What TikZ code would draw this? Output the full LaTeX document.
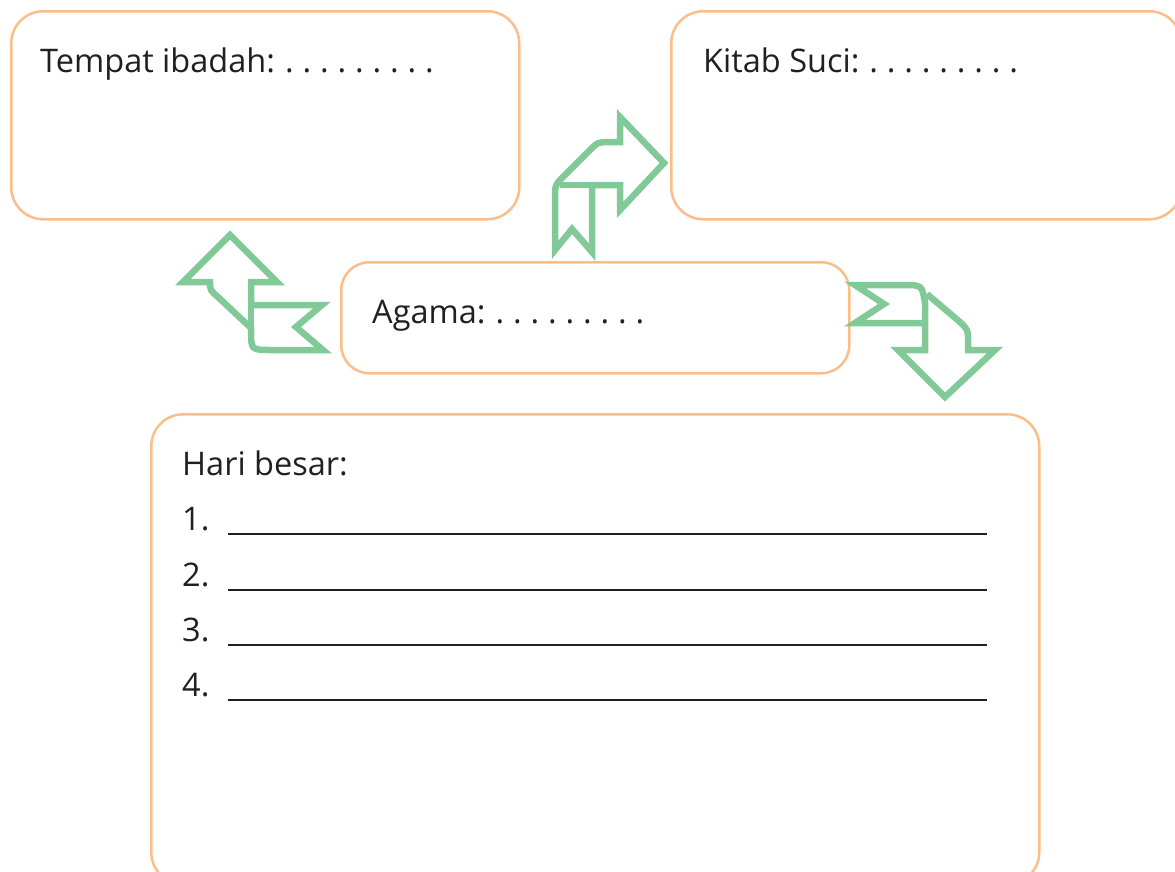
\documentclass[tikz,border=0pt]{standalone}
\usepackage{fontspec}
\setmainfont{Open Sans}
\definecolor{boxc}{RGB}{250,190,138}
\definecolor{arr}{RGB}{130,201,152}
\definecolor{txt}{RGB}{35,31,32}
\newcommand\onedot{\makebox[17.5pt][l]{.}}
\newcommand\ninedots{\hspace{10pt}\onedot\onedot\onedot\onedot\onedot\onedot\onedot\onedot\onedot}
\begin{document}
\begin{tikzpicture}[x=1pt,y=-1pt,
  box/.style={draw=boxc,line width=2.5pt,rounded corners=32pt,inner sep=0pt,anchor=north west},
  lab/.style={anchor=base west,inner sep=0pt,text=txt,font=\fontsize{32.5}{38}\selectfont},
  arrw/.style={draw=arr,line width=6.5pt,line join=miter,line cap=butt},
  rule/.style={draw=txt,line width=1.8pt}]
\useasboundingbox (0,0) rectangle (1175,871);
% boxes
\node[box,minimum width=508pt,minimum height=208pt] (tempat) at (10,10) {};
\node[box,minimum width=510pt,minimum height=208pt] (kitab) at (670,10) {};
\node[box,minimum width=508pt,minimum height=111pt,rounded corners=28pt] (agama) at (340,261) {};
\node[box,minimum width=888pt,minimum height=470pt] (hari) at (150,413) {};
% labels
\node[lab] (tl) at (40,72) {Tempat ibadah:\ninedots};
\node[lab] (kl) at (703,72) {Kitab Suci:\ninedots};
\node[lab] (al) at (372,323) {Agama:\ninedots};
\node[lab] (hl) at (182,475) {Hari besar:};
\foreach \n/\y in {1/530,2/586,3/641,4/696}{
  \node[lab] (n\n) at (182,\y) {\n.};
  \coordinate (a\n) at (228,\y+4);
  \coordinate (b\n) at (987,\y+4);
  \draw[rule] (a\n) -- (b\n);
}
% arrow to Kitab Suci (up-right)
\draw[arrw] (555,250) -- (572,229) -- (592,252) -- (592,185) -- (620,185) -- (620,210) -- (664,163) -- (620,117) -- (620,142) -- (610,142) .. controls (598,142) .. (589,151) -- (564,176) .. controls (555,185) .. (555,199) -- cycle;
\draw[arrw] (592,185) -- (560,185);
% arrow to Tempat ibadah (up)
\draw[arrw] (230,235) -- (277,282) -- (251,282) -- (251,305) -- (322,305) -- (296,327) -- (323,350) -- (272,350) .. controls (251,350) .. (251,330) -- (251,328) -- (219,298) .. controls (210,290) .. (210,282) -- (183,282) -- cycle;
\draw[arrw] (251,303) -- (251,330);
% arrow to Hari besar (down)
\draw[arrw] (925,323) -- (855,323) -- (884,304) -- (855,285) -- (903,285) .. controls (922,285) .. (925,303) -- (925,350) -- (898,350) -- (945,397) -- (995,350) -- (968,350) -- (968,340) .. controls (968,330) .. (960,322) -- (927,294);
\end{tikzpicture}
\end{document}
